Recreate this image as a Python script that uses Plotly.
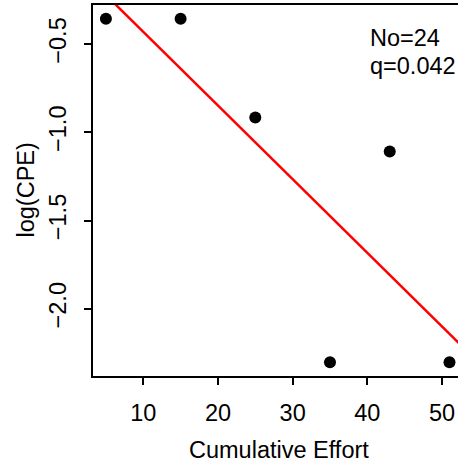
import numpy as np
import plotly.graph_objects as go

# data
effort = [5, 15, 25, 35, 43, 51]
log_cpe = [-0.357, -0.357, -0.916, -2.303, -1.109, -2.303]
x_ticks = [10, 20, 30, 40, 50]
x_ticktext = ["10", "20", "30", "40", "50"]
y_ticks = [-0.5, -1.0, -1.5, -2.0]
y_ticktext = ["\u22120.5", "\u22121.0", "\u22121.5", "\u22122.0"]
label_no = "No=24"
label_q = "q=0.042"

slope, intercept = np.polyfit(effort, log_cpe, 1)
line_x = [0, 60]
line_y = [intercept + slope * v for v in line_x]

FONT = "Liberation Sans, Arial, sans-serif"
FS = 23.5

fig = go.Figure()
fig.add_trace(go.Scatter(x=line_x, y=line_y, mode="lines",
                         line=dict(color="#ff0000", width=2.5),
                         hoverinfo="skip", showlegend=False))
fig.add_trace(go.Scatter(x=effort, y=log_cpe, mode="markers",
                         marker=dict(color="black", size=12),
                         showlegend=False, cliponaxis=False))

W, H = 458, 462
L, R, T, B = 93, 0, 5, 86

fig.update_layout(
    width=W, height=H, autosize=False,
    margin=dict(l=L, r=R, t=T, b=B, pad=0),
    paper_bgcolor="white", plot_bgcolor="white",
    font=dict(family=FONT, size=FS, color="black"),
    xaxis=dict(range=[3.27, 52.14], showgrid=False, zeroline=False,
               showline=True, linecolor="black", linewidth=1.5, mirror=True,
               ticks="outside", ticklen=7, tickwidth=1.5, tickcolor="black",
               tickvals=x_ticks, ticktext=x_ticktext, ticklabelstandoff=8,
               tickfont=dict(family=FONT, size=FS)),
    yaxis=dict(range=[-2.381, -0.279], showgrid=False, zeroline=False,
               showline=True, linecolor="black", linewidth=1.5, mirror=False,
               ticks="outside", ticklen=7, tickwidth=1.5, tickcolor="black",
               tickvals=y_ticks, ticktext=y_ticktext, tickangle=-90,
               ticklabelstandoff=9,
               tickfont=dict(family=FONT, size=FS)),
    annotations=[
        dict(text="Cumulative Effort", xref="paper", yref="paper",
             x=(279 - L) / (W - L - R), y=0, yshift=-74, xanchor="center",
             yanchor="middle", showarrow=False, font=dict(size=FS)),
        dict(text="log(CPE)", xref="paper", yref="paper",
             x=0, xshift=-68, y=0.5, xanchor="center", yanchor="middle",
             textangle=-90, showarrow=False, font=dict(size=FS)),
        dict(text=label_no, xref="paper", yref="paper",
             x=(368 - L) / (W - L - R), y=1, yshift=-(37.5 - T),
             xanchor="left", yanchor="middle", showarrow=False,
             font=dict(size=FS)),
        dict(text=label_q, xref="paper", yref="paper",
             x=(368 - L) / (W - L - R), y=1, yshift=-(66 - T),
             xanchor="left", yanchor="middle", showarrow=False,
             font=dict(size=FS)),
    ],
)

fig.write_html("out.html")
